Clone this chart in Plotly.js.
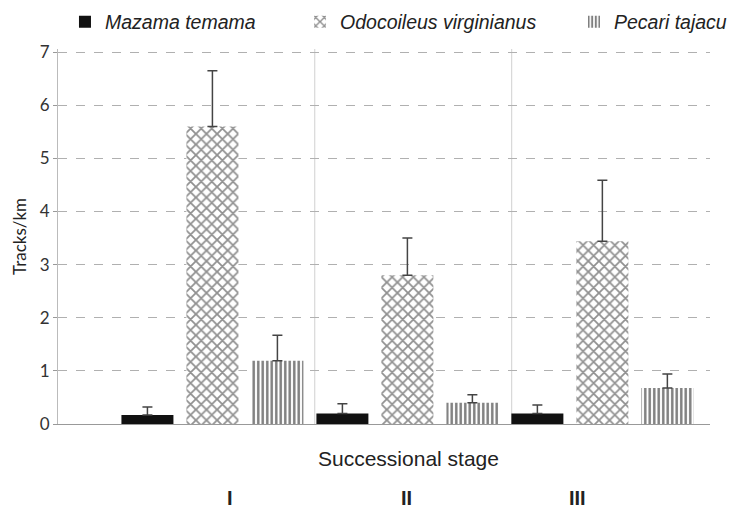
<!DOCTYPE html>
<html>
<head>
<meta charset="utf-8">
<script src="https://cdn.plot.ly/plotly-3.0.1.min.js"></script>
<style>html,body{margin:0;padding:0;background:#fff;}#chart{width:733px;height:512px;}</style>
</head>
<body>
<div id="chart"></div>
<script>
// Data
const stages = ['I', 'II', 'III'];
const seriesNames = ['Mazama temama', 'Odocoileus virginianus', 'Pecari tajacu'];
const mazama = [0.17, 0.20, 0.20];
const mazamaErr = [0.15, 0.18, 0.16];
const odocoileus = [5.60, 2.80, 3.44];
const odocoileusErr = [1.05, 0.70, 1.15];
const pecari = [1.19, 0.40, 0.68];
const pecariErr = [0.48, 0.15, 0.26];
const yTicks = [0, 1, 2, 3, 4, 5, 6, 7];

const errStyle = (arr) => ({
  type: 'data', symmetric: false, array: arr, arrayminus: arr.map(() => 0),
  color: '#444', thickness: 1.5, width: 5
});

const traces = [
  {
    type: 'bar', name: seriesNames[0], x: stages, y: mazama,
    marker: { color: '#111', line: { width: 0 } },
    error_y: errStyle(mazamaErr), legend: 'legend'
  },
  {
    type: 'bar', name: seriesNames[1], x: stages, y: odocoileus,
    marker: { color: '#fff', line: { width: 0 },
      pattern: { shape: 'x', fgcolor: '#222', bgcolor: '#fff', size: 7.5, solidity: 0.42, fillmode: 'overlay' } },
    error_y: errStyle(odocoileusErr), legend: 'legend2'
  },
  {
    type: 'bar', name: seriesNames[2], x: stages, y: pecari,
    marker: { color: '#fff', line: { width: 0 },
      pattern: { shape: '|', fgcolor: '#000', bgcolor: '#fff', size: 4.5, solidity: 0.55, fillmode: 'overlay' } },
    error_y: errStyle(pecariErr), legend: 'legend3'
  }
];

const legendFont = { family: 'Liberation Sans, Arial, sans-serif', size: 19.5, color: '#222', style: 'italic' };
const legendBase = { orientation: 'h', yanchor: 'middle', y: 1.072, xanchor: 'left', font: legendFont, bgcolor: 'rgba(0,0,0,0)', itemwidth: 30 };

const layout = {
  width: 733, height: 512,
  margin: { l: 58, r: 23, t: 49, b: 88, autoexpand: false },
  paper_bgcolor: '#fff', plot_bgcolor: '#fff',
  barmode: 'group', bargap: 0, bargroupgap: 0.2,
  showlegend: true,
  legend: Object.assign({}, legendBase, { x: 0.0107 }),
  legend2: Object.assign({}, legendBase, { x: 0.3712 }),
  legend3: Object.assign({}, legendBase, { x: 0.7914 }),
  xaxis: {
    type: 'category', range: [-0.792, 2.552],
    showticklabels: false, ticks: '', showgrid: false, zeroline: false,
    showline: true, linecolor: '#999', linewidth: 1
  },
  yaxis: {
    range: [0, 7.06], tickvals: yTicks, ticktext: yTicks.map(String),
    showgrid: true, gridcolor: '#b0b0b0', griddash: 'dash', gridwidth: 1,
    zeroline: false, showline: true, linecolor: '#bbb', linewidth: 1,
    ticks: 'outside', ticklen: 4, tickcolor: '#999',
    tickfont: { family: 'Lato, Carlito, sans-serif', size: 17, color: '#333' },
    title: { text: 'Tracks/km', font: { family: 'Lato, Carlito, sans-serif', size: 17, color: '#222' }, standoff: 8 }
  },
  shapes: [0.525, 1.535].map(v => ({
    type: 'line', xref: 'x', yref: 'paper', x0: v, x1: v, y0: 0, y1: 1,
    line: { color: '#d0d0d0', width: 1 }, layer: 'below'
  })),
  annotations: [
    { text: 'Successional stage', xref: 'paper', yref: 'paper', x: 0.537, y: -0.091,
      xanchor: 'center', yanchor: 'middle', showarrow: false,
      font: { family: 'Liberation Sans, Arial, sans-serif', size: 21, color: '#222' } }
  ].concat(stages.map((s, i) => ({
    text: '<b>' + s + '</b>', xref: 'paper', yref: 'paper', x: [0.264, 0.535, 0.797][i], y: -0.198,
    xanchor: 'center', yanchor: 'middle', showarrow: false,
    font: { family: 'Liberation Sans, Arial, sans-serif', size: 20, color: '#222' }
  })))
};

Plotly.newPlot('chart', traces, layout, { displayModeBar: false, staticPlot: true });
</script>
</body>
</html>
